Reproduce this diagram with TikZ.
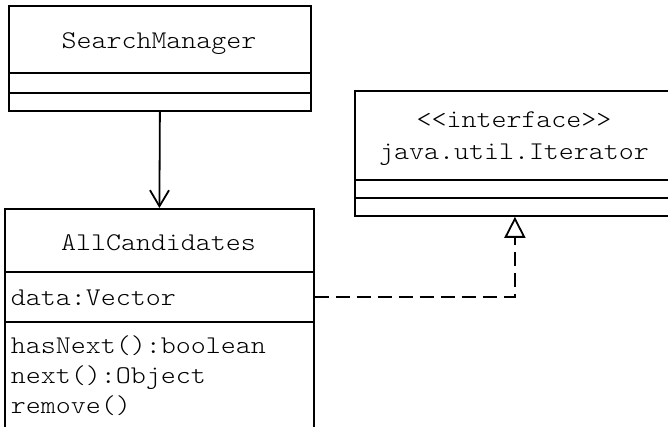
\documentclass[tikz,border=0pt]{standalone}
\usepackage{fontspec}
\newfontfamily\umlfont{Latin Modern Mono Light}[FakeStretch=1.12]
\usetikzlibrary{arrows.meta}
\begin{document}
\begin{tikzpicture}[x=1pt,y=-1pt,line width=1.8pt,
  box/.style={draw,rectangle,inner sep=0pt,anchor=north west},
  lbl/.style={font=\fontsize{25.5}{30}\selectfont\umlfont,inner sep=0pt},
  cname/.style={lbl,anchor=base},
  member/.style={lbl,anchor=base west},
  dashline/.style={dash pattern=on 14pt off 7pt}]
\useasboundingbox (0,0) rectangle (668,427);
\clip (0,0) rectangle (668,427);
% SearchManager
\node[box,minimum width=302pt,minimum height=67pt] (sm1) at (8,5) {};
\node[box,minimum width=302pt,minimum height=20pt] (sm2) at (8,72) {};
\node[box,minimum width=302pt,minimum height=18pt] (sm3) at (8,92) {};
\node[cname] (smname) at (159,49) {SearchManager};
% AllCandidates
\node[box,minimum width=309pt,minimum height=63pt] (ac1) at (4,208) {};
\node[box,minimum width=309pt,minimum height=50pt] (ac2) at (4,271) {};
\node[box,minimum width=309pt,minimum height=120pt] (ac3) at (4,321) {};
\node[cname] (acname) at (158.5,251) {AllCandidates};
\node[member] (acattr) at (10,305) {data:Vector};
\node[member] (acop1) at (10,353) {hasNext():boolean};
\node[member] (acop2) at (10,383) {next():Object};
\node[member] (acop3) at (10,413) {remove()};
% Iterator interface
\node[box,minimum width=320pt,minimum height=89pt] (if1) at (354,90) {};
\node[box,minimum width=320pt,minimum height=18pt] (if2) at (354,179) {};
\node[box,minimum width=320pt,minimum height=18pt] (if3) at (354,197) {};
\node[cname] (ifstereo) at (514,128) {<{}<interface>{}>};
\node[cname] (ifname) at (514,160) {java.util.Iterator};
% connectors
\draw[-{Straight Barb[length=16pt,width=19pt]}] (sm3.south) -- (ac1.north);
\draw[dashline,-{Triangle[open,fill=white,length=21pt,width=21pt]}] (ac2.east) -| (if3.south);
\end{tikzpicture}
\end{document}
